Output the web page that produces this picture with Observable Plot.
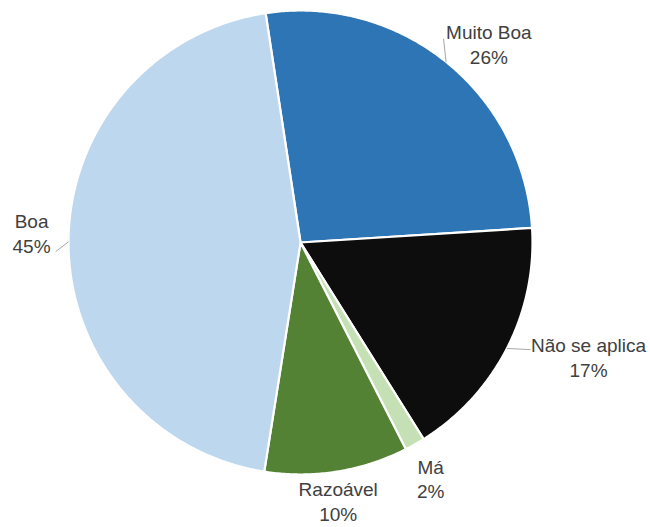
<!DOCTYPE html>
<html>
<head>
<meta charset="utf-8">
<script src="https://cdn.jsdelivr.net/npm/d3@7"></script>
<script src="https://cdn.jsdelivr.net/npm/@observablehq/plot@0.6"></script>
<style>
  html, body { margin: 0; padding: 0; background: #fff; }
  #chart svg { display: block; }
</style>
</head>
<body>
<div id="chart"></div>
<script>
// ---- data ----
const categories = ["Muito Boa", "Não se aplica", "Má", "Razoável", "Boa"];
const values = [26.4, 17.1, 1.4, 10.0, 45.1];
const percentLabels = ["26%", "17%", "2%", "10%", "45%"];
const colors = ["#2E75B6", "#0D0D0D", "#C5E0B4", "#548235", "#BDD7EE"];

// ---- layout (label placement relative to slice mid-angle) ----
const labelRadius = [1.18, 1.335, 1.16, 1.125, 1.16];
const labelShiftDeg = [4.6, -5.6, 0.6, 0.7, 1.9];
const hasLeader = [true, true, false, false, true];
const leaderRadius = [1.073, 1.094, 0, 0, 1.056];
const leaderShiftDeg = [-3.8, -2.2, 0, 0, -2.3];

const rad = Math.PI / 180;
const pie = d3.pie().sort(null).startAngle(-8.65 * rad).endAngle((360 - 8.65) * rad);
const arcs = pie(values);
const polar = (a, r) => ({x: r * Math.sin(a), y: r * Math.cos(a)});

const sliceMarks = arcs.map((a, i) => {
  const pts = [{x: 0, y: 0}];
  const n = Math.max(4, Math.ceil((a.endAngle - a.startAngle) / (0.5 * rad)));
  for (let k = 0; k <= n; k++) {
    pts.push(polar(a.startAngle + (a.endAngle - a.startAngle) * k / n, 1));
  }
  pts.push({x: 0, y: 0});
  return Plot.line(pts, {x: "x", y: "y", fill: colors[i], stroke: "white", strokeWidth: 2.2, strokeLinejoin: "round", curve: "linear"});
});

const labels = arcs.map((a, i) => {
  const mid = (a.startAngle + a.endAngle) / 2;
  const p = polar(mid + labelShiftDeg[i] * rad, labelRadius[i]);
  return {x: p.x, y: p.y, text: categories[i] + "\n" + percentLabels[i]};
});

const leaders = [];
arcs.forEach((a, i) => {
  if (!hasLeader[i]) return;
  const mid = (a.startAngle + a.endAngle) / 2;
  const p0 = polar(mid, 1.0);
  const p1 = polar(mid + leaderShiftDeg[i] * rad, leaderRadius[i]);
  leaders.push({x1: p0.x, y1: p0.y, x2: p1.x, y2: p1.y});
});

const chart = Plot.plot({
  width: 650,
  height: 527,
  margin: 0,
  x: {domain: [-1, 1], range: [68, 532], axis: null},
  y: {domain: [-1, 1], range: [474, 10], axis: null},
  style: {background: "#fff"},
  marks: [
    ...sliceMarks,
    Plot.link(leaders, {x1: "x1", y1: "y1", x2: "x2", y2: "y2", stroke: "#A6A6A6", strokeWidth: 1}),
    Plot.text(labels, {x: "x", y: "y", text: "text", fontSize: 19, lineHeight: 1.3,
      fill: "#404040", fontFamily: "Liberation Sans, Arial, sans-serif", textAnchor: "middle", lineAnchor: "middle"})
  ]
});
document.getElementById("chart").appendChild(chart);
</script>
</body>
</html>
